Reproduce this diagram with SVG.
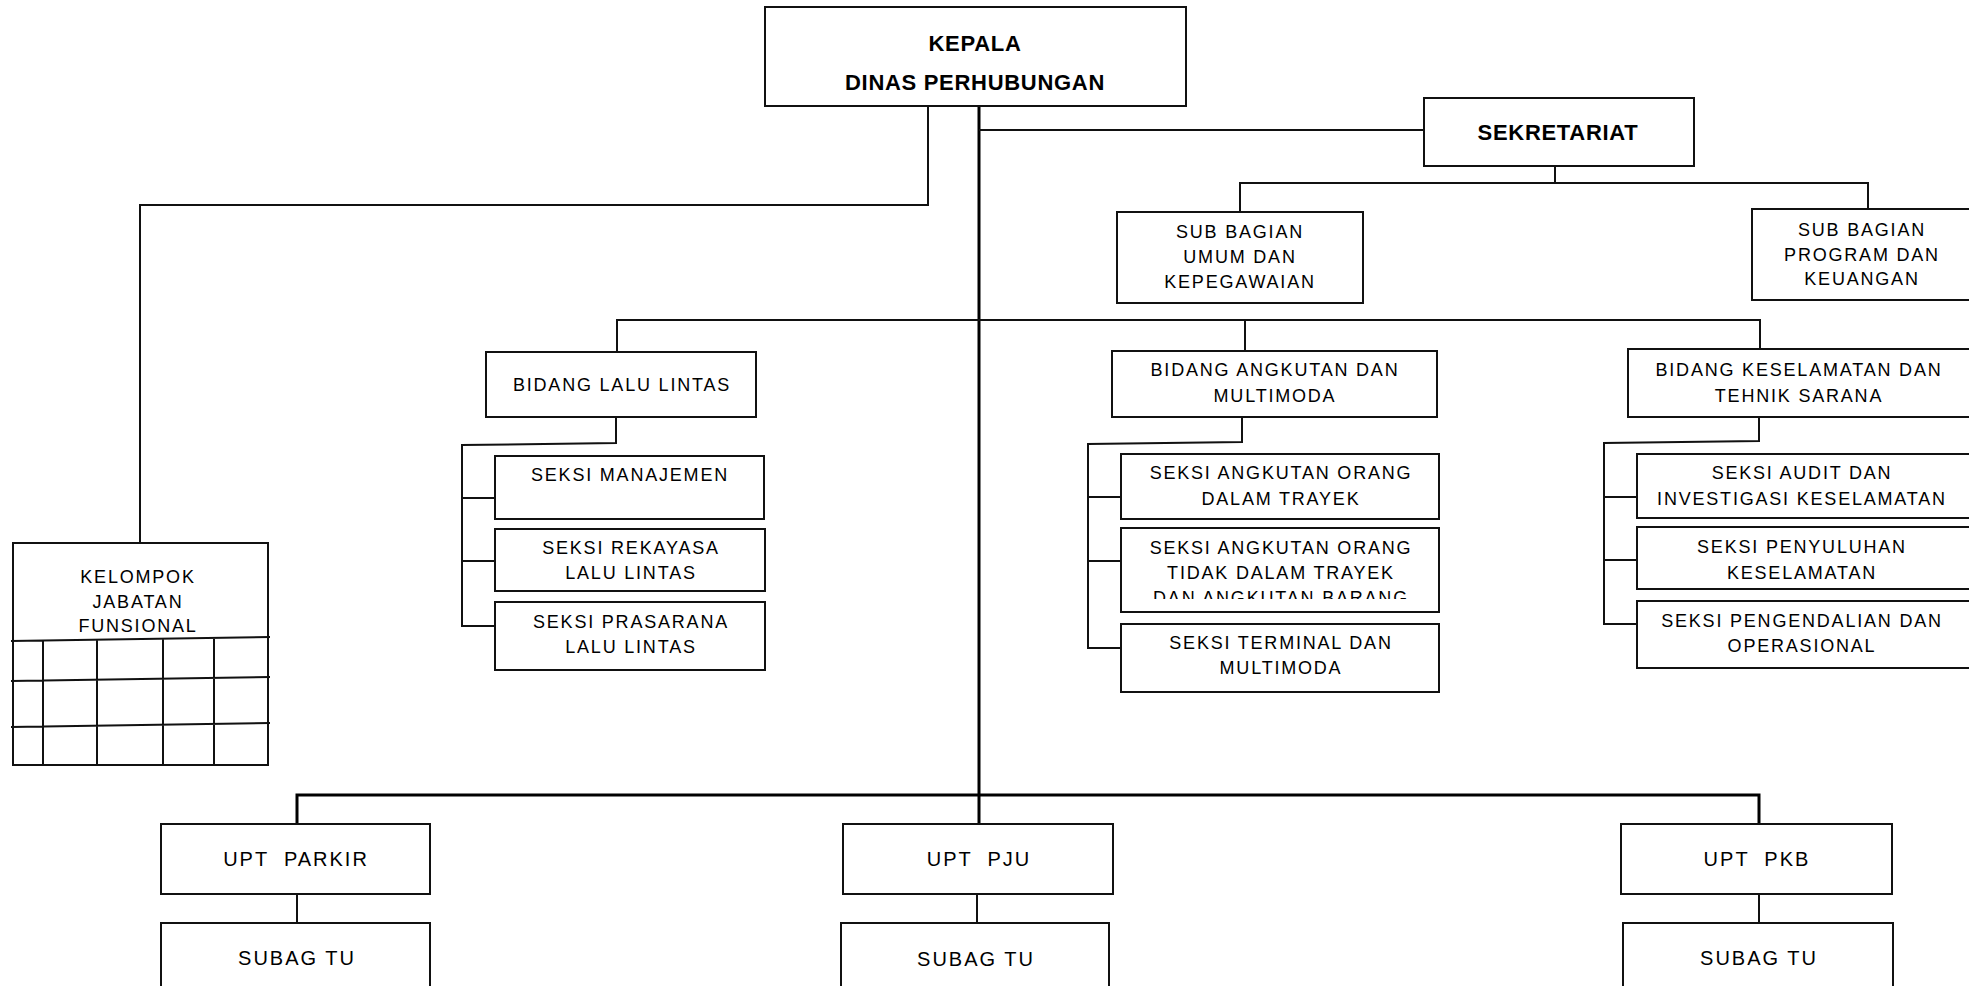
<svg xmlns="http://www.w3.org/2000/svg" width="1969" height="986" viewBox="0 0 1969 986">
<style>
.box{fill:#fff;stroke:#111;stroke-width:2}
.ln{stroke:#111;stroke-width:2;fill:none}
.tr{stroke:#000;stroke-width:3;fill:none}
.t{font-family:"Liberation Sans",Arial,sans-serif;font-size:18px;letter-spacing:1.8px;text-anchor:middle;fill:#000}
.b{font-weight:bold;font-size:22px;letter-spacing:0.7px}
.u{font-size:20px;letter-spacing:2px;white-space:pre}
</style>
<defs>
<clipPath id="clipTidak"><rect x="1121" y="528" width="318" height="71"/></clipPath>
</defs>
<rect width="1969" height="986" fill="#fff"/>
<g id="connectors">
<path class="tr" d="M979 106 V824"/>
<path class="ln" d="M979 130 H1424"/>
<path class="ln" d="M928 106 V205 H140 V543"/>
<path class="ln" d="M1555 166 V183"/>
<path class="ln" d="M1240 212 V183 H1868 V209"/>
<path class="ln" d="M617 352 V320 H1760 V349"/>
<path class="ln" d="M1245 320 V351"/>
<path class="ln" d="M616 417 V443 L462 445 V626 H495"/>
<path class="ln" d="M462 498 H495 M462 561 H495"/>
<path class="ln" d="M1242 417 V442 L1088 444 V648 H1121"/>
<path class="ln" d="M1088 497 H1121 M1088 561 H1121"/>
<path class="ln" d="M1759 417 V441 L1604 443 V624 H1637"/>
<path class="ln" d="M1604 497 H1637 M1604 560 H1637"/>
<path class="tr" d="M297 824 V795 H1759 V824"/>
<path class="ln" d="M297 894 V923 M977 894 V923 M1759 894 V923"/>
</g>
<g id="kepala">
<rect class="box" x="765" y="7" width="421" height="99"/>
<text class="t b" x="975" y="51">KEPALA</text>
<text class="t b" x="975" y="90">DINAS PERHUBUNGAN</text>
</g>
<g id="sekretariat">
<rect class="box" x="1424" y="98" width="270" height="68"/>
<text class="t b" x="1558" y="140">SEKRETARIAT</text>
</g>
<g id="subbag-umum">
<rect class="box" x="1117" y="212" width="246" height="91"/>
<text class="t" x="1240" y="238">SUB BAGIAN</text>
<text class="t" x="1240" y="263">UMUM DAN</text>
<text class="t" x="1240" y="288">KEPEGAWAIAN</text>
</g>
<g id="subbag-program">
<rect class="box" x="1752" y="209" width="230" height="91"/>
<text class="t" x="1862" y="236">SUB BAGIAN</text>
<text class="t" x="1862" y="261">PROGRAM DAN</text>
<text class="t" x="1862" y="285">KEUANGAN</text>
</g>
<g id="bidang-lalulintas">
<rect class="box" x="486" y="352" width="270" height="65"/>
<text class="t" x="622" y="391">BIDANG LALU LINTAS</text>
</g>
<g id="bidang-angkutan">
<rect class="box" x="1112" y="351" width="325" height="66"/>
<text class="t" x="1275" y="376">BIDANG ANGKUTAN DAN</text>
<text class="t" x="1275" y="402">MULTIMODA</text>
</g>
<g id="bidang-keselamatan">
<rect class="box" x="1628" y="349" width="354" height="68"/>
<text class="t" x="1799" y="376">BIDANG KESELAMATAN DAN</text>
<text class="t" x="1799" y="402">TEHNIK SARANA</text>
</g>
<g id="seksi-manajemen">
<rect class="box" x="495" y="456" width="269" height="63"/>
<text class="t" x="630" y="481">SEKSI MANAJEMEN</text>
</g>
<g id="seksi-rekayasa">
<rect class="box" x="495" y="529" width="270" height="62"/>
<text class="t" x="631" y="554">SEKSI REKAYASA</text>
<text class="t" x="631" y="579">LALU LINTAS</text>
</g>
<g id="seksi-prasarana">
<rect class="box" x="495" y="602" width="270" height="68"/>
<text class="t" x="631" y="628">SEKSI PRASARANA</text>
<text class="t" x="631" y="653">LALU LINTAS</text>
</g>
<g id="seksi-dalam-trayek">
<rect class="box" x="1121" y="454" width="318" height="65"/>
<text class="t" x="1281" y="479">SEKSI ANGKUTAN ORANG</text>
<text class="t" x="1281" y="505">DALAM TRAYEK</text>
</g>
<g id="seksi-tidak-dalam-trayek">
<rect class="box" x="1121" y="528" width="318" height="84"/>
<g clip-path="url(#clipTidak)">
<text class="t" x="1281" y="554">SEKSI ANGKUTAN ORANG</text>
<text class="t" x="1281" y="579">TIDAK DALAM TRAYEK</text>
<text class="t" x="1281" y="604">DAN ANGKUTAN BARANG</text>
</g>
</g>
<g id="seksi-terminal">
<rect class="box" x="1121" y="624" width="318" height="68"/>
<text class="t" x="1281" y="649">SEKSI TERMINAL DAN</text>
<text class="t" x="1281" y="674">MULTIMODA</text>
</g>
<g id="seksi-audit">
<rect class="box" x="1637" y="454" width="345" height="64"/>
<text class="t" x="1802" y="479">SEKSI AUDIT DAN</text>
<text class="t" x="1802" y="505">INVESTIGASI KESELAMATAN</text>
</g>
<g id="seksi-penyuluhan">
<rect class="box" x="1637" y="527" width="345" height="62"/>
<text class="t" x="1802" y="553">SEKSI PENYULUHAN</text>
<text class="t" x="1802" y="579">KESELAMATAN</text>
</g>
<g id="seksi-pengendalian">
<rect class="box" x="1637" y="601" width="345" height="67"/>
<text class="t" x="1802" y="627">SEKSI PENGENDALIAN DAN</text>
<text class="t" x="1802" y="652">OPERASIONAL</text>
</g>
<g id="kelompok-jabatan">
<rect class="box" x="13" y="543" width="255" height="222"/>
<text class="t" x="138" y="583">KELOMPOK</text>
<text class="t" x="138" y="608">JABATAN</text>
<text class="t" x="138" y="632">FUNSIONAL</text>
<path class="ln" d="M11 641 L270 637 M11 681 L270 677 M11 727 L270 723 M43 640 V765 M97 640 V765 M163 639 V765 M214 638 V765"/>
</g>
<g id="upt-parkir">
<rect class="box" x="161" y="824" width="269" height="70"/>
<text class="t u" x="296" y="866" xml:space="preserve">UPT  PARKIR</text>
</g>
<g id="subag-parkir">
<rect class="box" x="161" y="923" width="269" height="75"/>
<text class="t u" x="297" y="965">SUBAG TU</text>
</g>
<g id="upt-pju">
<rect class="box" x="843" y="824" width="270" height="70"/>
<text class="t u" x="979" y="866" xml:space="preserve">UPT  PJU</text>
</g>
<g id="subag-pju">
<rect class="box" x="841" y="923" width="268" height="75"/>
<text class="t u" x="976" y="966">SUBAG TU</text>
</g>
<g id="upt-pkb">
<rect class="box" x="1621" y="824" width="271" height="70"/>
<text class="t u" x="1757" y="866" xml:space="preserve">UPT  PKB</text>
</g>
<g id="subag-pkb">
<rect class="box" x="1623" y="923" width="270" height="75"/>
<text class="t u" x="1759" y="965">SUBAG TU</text>
</g>
</svg>
